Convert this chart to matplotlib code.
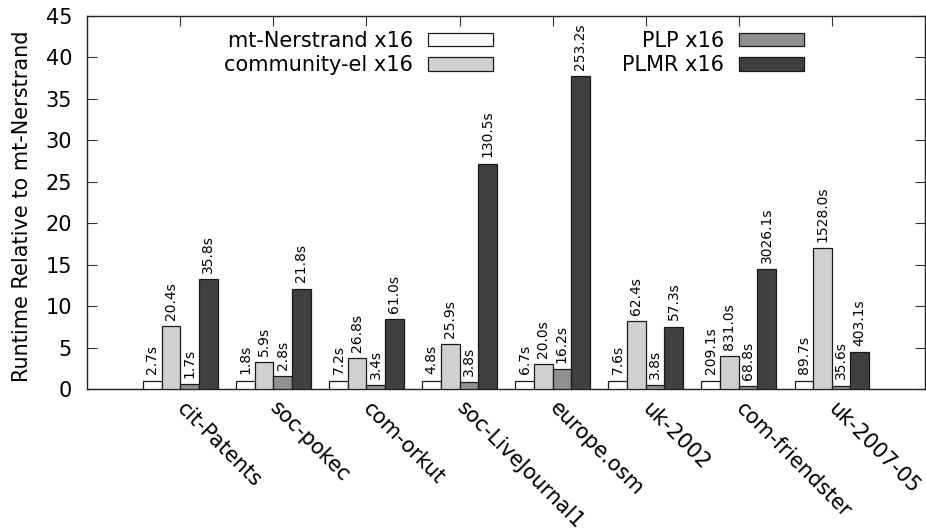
import numpy as np
import matplotlib
matplotlib.use('Agg')
import matplotlib.pyplot as plt
import matplotlib.transforms as mtransforms

# graphs on the x axis
datasets = ['cit-Patents', 'soc-pokec', 'com-orkut', 'soc-LiveJournal1',
            'europe.osm', 'uk-2002', 'com-friendster', 'uk-2007-05']

series_names = ['mt-Nerstrand x16', 'community-el x16', 'PLP x16', 'PLMR x16']

# absolute runtimes printed above the bars (seconds)
mt_times   = [2.7, 1.8, 7.2, 4.8, 6.7, 7.6, 209.1, 89.7]
cel_times  = [20.4, 5.9, 26.8, 25.9, 20.0, 62.4, 831.0, 1528.0]
plp_times  = [1.7, 2.8, 3.4, 3.8, 16.2, 3.8, 68.8, 35.6]
plmr_times = [35.8, 21.8, 61.0, 130.5, 253.2, 57.3, 3026.1, 403.1]

# bar heights, runtime relative to mt-Nerstrand
mt_rel   = [1.0, 1.0, 1.0, 1.0, 1.0, 1.0, 1.0, 1.0]
cel_rel  = [7.55, 3.28, 3.72, 5.40, 2.99, 8.21, 3.97, 17.03]
plp_rel  = [0.63, 1.56, 0.47, 0.79, 2.42, 0.50, 0.33, 0.40]
plmr_rel = [13.26, 12.11, 8.47, 27.19, 37.79, 7.54, 14.47, 4.49]

colors = ['#ffffff', '#d0d0d0', '#909090', '#404040']

plt.rcParams['font.family'] = 'DejaVu Sans'
plt.rcParams['font.size'] = 15

fig = plt.figure(figsize=(9.26, 5.31), dpi=100)
ax = fig.add_axes([87.3 / 926, 1 - 389 / 531, (924.8 - 87.3) / 926, (389 - 16) / 531])

x = np.arange(len(datasets))
width = 0.2
heights = [mt_rel, cel_rel, plp_rel, plmr_rel]
times = [mt_times, cel_times, plp_times, plmr_times]

for j in range(4):
    pos = x + (j - 1.5) * width
    ax.bar(pos, heights[j], width, color=colors[j], edgecolor='#1a1a1a',
           linewidth=0.9, label=series_names[j], zorder=3)
    for px, h, t in zip(pos, heights[j], times[j]):
        ax.annotate('%.1fs' % t, (px, h), xytext=(0, 4.5), textcoords='offset points',
                    ha='center', va='bottom', rotation=90, fontsize=10)

ax.set_xlim(-1, 8)
ax.set_ylim(0, 45)
ax.set_yticks(range(0, 50, 5))
ax.set_xticks(x)

ax.tick_params(direction='in', length=7.5, width=0.8, color='#333333',
               top=True, right=True, labelsize=15)
ax.tick_params(axis='y', pad=11)
ax.tick_params(axis='x', pad=6)
for sp in ax.spines.values():
    sp.set_linewidth(1.0)
    sp.set_color('#222222')

ax.set_xticklabels(datasets, rotation=-45, ha='left', va='top', rotation_mode='anchor')

ax.set_ylabel('Runtime Relative to mt-Nerstrand', fontsize=15)
ax.yaxis.set_label_coords(-0.066, 0.49)

ax.legend(ncol=2, loc='upper right', bbox_to_anchor=(0.8554, 0.960),
          frameon=False, markerfirst=False, borderpad=0, borderaxespad=0,
          handlelength=3.12, handleheight=0.62, handletextpad=0.7,
          columnspacing=6.2, labelspacing=0.2, fontsize=15)

# nudge the slanted labels a bit to the right, as in the original
shift = mtransforms.ScaledTranslation(7 / 100, -1 / 100, fig.dpi_scale_trans)
for tick in ax.xaxis.get_major_ticks():
    tick.label1.set_transform(tick.label1.get_transform() + shift)

plt.savefig('out.png', dpi=100)
plt.close()
